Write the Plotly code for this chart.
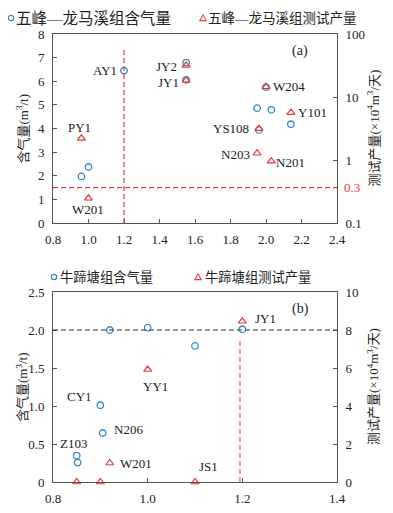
import math
import plotly.graph_objects as go

W, H = 393, 513
OFF = 8  # default page body margin

# ---------------- data: panel (a) 五峰—龙马溪组 ----------------
a_gas_wells = ["AY1", "JY2", "JY1", "PY1", "W201", "W204", "N203", "N201", "Y101", "YS108"]
a_gas_x = [1.20, 1.55, 1.55, 0.96, 1.00, 2.00, 1.95, 2.03, 2.14, 1.96]
a_gas_y = [6.45, 6.79, 6.06, 1.97, 2.37, 5.75, 4.86, 4.79, 4.18, 3.94]

a_prod_wells = ["JY2", "JY1", "PY1", "W201", "W204", "Y101", "YS108", "N203", "N201"]
a_prod_x = [1.55, 1.55, 0.96, 1.00, 2.00, 2.14, 1.96, 1.95, 2.03]
a_prod_y = [31.8, 18.4, 2.21, 0.247, 14.5, 5.65, 3.15, 1.28, 0.96]

a_vline_x = 1.2
a_vline_top = 7.4
a_hline_y = 1.5
a_hline_label = "0.3"

a_x_ticks = [0.8, 1.0, 1.2, 1.4, 1.6, 1.8, 2.0, 2.2, 2.4]
a_y_ticks = [0, 1, 2, 3, 4, 5, 6, 7, 8]
a_y2_ticks = [0.1, 1, 10, 100]
a_y2_ticktext = ["0.1", "1", "10", "100"]

# ---------------- data: panel (b) 牛蹄塘组 ----------------
b_gas_wells = ["W201", "YY1", "JS1", "JY1", "CY1", "N206", "Z103", "Z103b"]
b_gas_x = [0.92, 1.00, 1.10, 1.20, 0.90, 0.905, 0.85, 0.852]
b_gas_y = [2.00, 2.03, 1.79, 2.01, 1.01, 0.645, 0.347, 0.255]

b_prod_wells = ["JY1", "YY1", "W201", "Z103", "CY1", "JS1"]
b_prod_x = [1.20, 1.00, 0.92, 0.85, 0.90, 1.10]
b_prod_y = [8.46, 5.92, 1.00, 0.0, 0.0, 0.0]

b_hline_y = 2.0
b_vline_x = 1.195
b_vline_top = 1.88

b_x_ticks = [0.8, 1.0, 1.2, 1.4]
b_x_ticktext = ["0.8", "1.0", "1.2", "1.4"]
b_y_ticks = [0, 0.5, 1.0, 1.5, 2.0, 2.5]
b_y_ticktext = ["0", "0.5", "1.0", "1.5", "2.0", "2.5"]
b_y2_ticks = [0, 2, 4, 6, 8, 10]

# ---------------- styles ----------------
BLUE = "#2f86c9"
RED = "#e8363e"
PINK = "#ff7a93"
AXC = "#555555"
FONT = "Liberation Serif, Noto Sans CJK SC, serif"

FW, FH = W - OFF, H - OFF

def px_x(p):
    return (p - OFF) / FW

def px_y(p):
    return 1 - (p - OFF) / FH

XDOM = [px_x(53), px_x(337)]
A_DOM = [px_y(223), px_y(34)]
B_DOM = [px_y(482), px_y(292)]

fig = go.Figure()

mk_c = dict(symbol="circle-open", size=6.5, color=BLUE, line=dict(width=1.3, color=BLUE))
mk_t = dict(symbol="triangle-up-open", size=7, color=RED, line=dict(width=1.2, color=RED))

fig.add_trace(go.Scatter(x=a_gas_x, y=a_gas_y, mode="markers", marker=mk_c,
                         xaxis="x", yaxis="y", name="五峰—龙马溪组含气量",
                         text=a_gas_wells, showlegend=False, cliponaxis=False))
fig.add_trace(go.Scatter(x=a_prod_x, y=a_prod_y, mode="markers", marker=mk_t,
                         xaxis="x", yaxis="y2", name="五峰—龙马溪组测试产量",
                         text=a_prod_wells, showlegend=False, cliponaxis=False))
fig.add_trace(go.Scatter(x=b_gas_x, y=b_gas_y, mode="markers", marker=mk_c,
                         xaxis="x2", yaxis="y3", name="牛蹄塘组含气量",
                         text=b_gas_wells, showlegend=False, cliponaxis=False))
fig.add_trace(go.Scatter(x=b_prod_x, y=b_prod_y, mode="markers", marker=mk_t,
                         xaxis="x2", yaxis="y4", name="牛蹄塘组测试产量",
                         text=b_prod_wells, showlegend=False, cliponaxis=False))

tickfont = dict(family=FONT, size=13, color="#222")
common = dict(showline=True, linecolor=AXC, linewidth=1, ticks="inside", ticklen=4,
              tickcolor=AXC, showgrid=False, zeroline=False, tickfont=tickfont,
              automargin=False)

fig.update_layout(
    width=FW, height=FH, margin=dict(l=0, r=0, t=0, b=0),
    paper_bgcolor="white", plot_bgcolor="white", showlegend=False,
    font=dict(family=FONT, size=13, color="#222"),
    xaxis=dict(domain=XDOM, range=[0.8, 2.4], tickvals=a_x_ticks,
               ticktext=[f"{v:.1f}" for v in a_x_ticks], anchor="y", mirror=True,
               ticklabelstandoff=4, **common),
    yaxis=dict(domain=A_DOM, range=[0, 8], tickvals=a_y_ticks, anchor="x",
               ticklabelstandoff=5, **common),
    yaxis2=dict(overlaying="y", side="right", type="log", range=[-1, 2],
                tickvals=a_y2_ticks, ticktext=a_y2_ticktext, anchor="x",
                ticklabelstandoff=5, **common),
    xaxis2=dict(domain=XDOM, range=[0.8, 1.4], tickvals=b_x_ticks, ticktext=b_x_ticktext,
                anchor="y3", mirror=True, ticklabelstandoff=4, **common),
    yaxis3=dict(domain=B_DOM, range=[0, 2.5], tickvals=b_y_ticks, ticktext=b_y_ticktext,
                anchor="x2", ticklabelstandoff=5, **common),
    yaxis4=dict(overlaying="y3", side="right", range=[0, 10], tickvals=b_y2_ticks,
                anchor="x2", ticklabelstandoff=5, **common),
)

# reference lines
fig.add_shape(type="line", xref="x", yref="y", x0=a_vline_x, x1=a_vline_x, y0=0, y1=a_vline_top,
              line=dict(color=RED, width=1.2, dash="5px,3px"))
fig.add_shape(type="line", xref="x domain", yref="y", x0=0, x1=1, y0=a_hline_y, y1=a_hline_y,
              line=dict(color=RED, width=1.2, dash="5px,3px"))
fig.add_shape(type="line", xref="x2 domain", yref="y3", x0=0, x1=1, y0=b_hline_y, y1=b_hline_y,
              line=dict(color="#333", width=1.1, dash="5px,3px"))
fig.add_shape(type="line", xref="x2", yref="y3", x0=b_vline_x, x1=b_vline_x, y0=0, y1=b_vline_top,
              line=dict(color=PINK, width=1.6, dash="5px,3px"))

lab_font = dict(family=FONT, size=13, color="#222")

def lab(text, x, y, xref, yref, xanchor, xs, ys):
    fig.add_annotation(text=text, x=x, y=y, xref=xref, yref=yref, xanchor=xanchor,
                       yanchor="middle", xshift=xs, yshift=ys, showarrow=False, font=lab_font)

# panel (a) well labels
lab("AY1", a_gas_x[0], a_gas_y[0], "x", "y", "right", -5, 0)
lab("JY2", a_gas_x[1], a_gas_y[1], "x", "y", "right", -7, -4)
lab("JY1", a_gas_x[2], a_gas_y[2], "x", "y", "right", -5, -3)
ly = lambda v: math.log10(v)
lab("PY1", a_prod_x[2], ly(a_prod_y[2]), "x", "y2", "center", -2, 11)
lab("W201", a_prod_x[3], ly(a_prod_y[3]), "x", "y2", "center", -1, -11)
lab("W204", a_prod_x[4], ly(a_prod_y[4]), "x", "y2", "left", 5, 0)
lab("Y101", a_prod_x[5], ly(a_prod_y[5]), "x", "y2", "left", 5, 0)
lab("YS108", a_prod_x[6], ly(a_prod_y[6]), "x", "y2", "right", -8, 0)
lab("N203", a_prod_x[7], ly(a_prod_y[7]), "x", "y2", "right", -5, -1)
lab("N201", a_prod_x[8], ly(a_prod_y[8]), "x", "y2", "left", 3, -1)
fig.add_annotation(text="(a)", xref="x domain", yref="y domain", x=0.87, y=0.91,
                   xanchor="center", yanchor="middle",
                   showarrow=False, font=dict(family=FONT, size=14, color="#222"))
fig.add_annotation(text=a_hline_label, xref="x domain", yref="y", x=1, y=a_hline_y,
                   xanchor="left", yanchor="middle", xshift=5, showarrow=False,
                   font=dict(family=FONT, size=13, color=RED))

# panel (b) well labels
lab("JY1", b_prod_x[0], b_prod_y[0], "x2", "y4", "left", 11, 3)
lab("YY1", b_prod_x[1], b_prod_y[1], "x2", "y4", "center", 8, -17)
lab("CY1", b_gas_x[4], b_gas_y[4], "x2", "y3", "right", -6, 9)
lab("N206", b_gas_x[5], b_gas_y[5], "x2", "y3", "left", 9, 3)
lab("Z103", b_gas_x[6], b_gas_y[6], "x2", "y3", "center", -3, 12)
lab("W201", b_prod_x[2], b_prod_y[2], "x2", "y4", "left", 8, 0)
lab("JS1", b_prod_x[5], b_prod_y[5], "x2", "y4", "center", 13, 16)
fig.add_annotation(text="(b)", xref="x2 domain", yref="y3 domain", x=0.87, y=0.91,
                   xanchor="center", yanchor="middle",
                   showarrow=False, font=dict(family=FONT, size=14, color="#222"))

# axis titles
title_font = dict(family=FONT, size=13, color="#222")
for cy in [(34 + 223) / 2, (292 + 482) / 2]:
    fig.add_annotation(text="含气量(m<sup>3</sup>/t)", xref="paper", yref="paper",
                       x=px_x(22), y=px_y(cy), xanchor="center", yanchor="middle",
                       textangle=-90, showarrow=False, font=title_font)
    fig.add_annotation(text="测试产量(×10<sup>4</sup>m<sup>3</sup>/天)", xref="paper", yref="paper",
                       x=px_x(373), y=px_y(cy), xanchor="center", yanchor="middle",
                       textangle=-90, showarrow=False, font=title_font)

# legends (symbol shapes + text)
def leg_circle(cx, cy):
    fig.add_shape(type="circle", xref="paper", yref="paper", xsizemode="pixel",
                  ysizemode="pixel", xanchor=px_x(cx), yanchor=px_y(cy),
                  x0=-2.7, x1=2.7, y0=-2.7, y1=2.7, line=dict(color=BLUE, width=1.2))

def leg_tri(cx, cy):
    fig.add_shape(type="path", xref="paper", yref="paper", xsizemode="pixel",
                  ysizemode="pixel", xanchor=px_x(cx), yanchor=px_y(cy),
                  path="M -3.2,-2.6 L 3.2,-2.6 L 0,3.2 Z", line=dict(color=RED, width=1.1))

def leg_text(text, x, y, size):
    fig.add_annotation(text=text, xref="paper", yref="paper", x=px_x(x), y=px_y(y),
                       xanchor="left", yanchor="middle", showarrow=False,
                       font=dict(family=FONT, size=size, color="#222"))

leg_circle(11, 18)
leg_text("五峰—龙马溪组含气量", 14, 18, 15.5)
leg_tri(203, 18)
leg_text("五峰—龙马溪组测试产量", 206, 18, 13.5)
leg_circle(54, 277)
leg_text("牛蹄塘组含气量", 58, 277, 13.3)
leg_tri(198, 277)
leg_text("牛蹄塘组测试产量", 203, 277, 13.3)

fig.write_html("out.html")
